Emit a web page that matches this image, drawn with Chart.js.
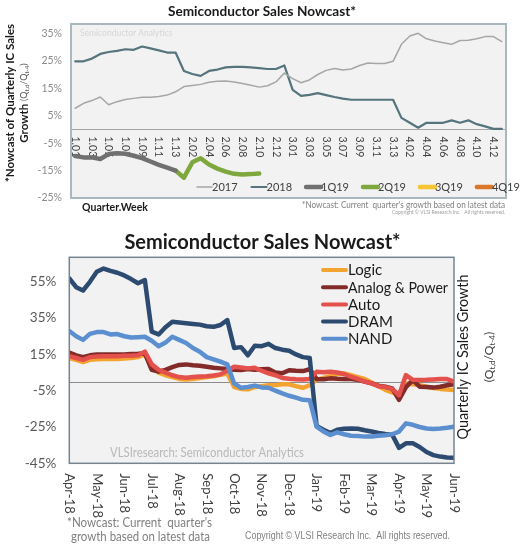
<!DOCTYPE html>
<html>
<head>
<meta charset="utf-8">
<script src="https://cdn.jsdelivr.net/npm/chart.js@4.4.0/dist/chart.umd.min.js"></script>
<style>
  html, body { margin: 0; padding: 0; background: #fff; }
  #wrap { position: relative; width: 526px; height: 547px; overflow: hidden; }
  #topChart { position: absolute; left: 0; top: 0; }
  #bottomChart { position: absolute; left: 0; top: 220px; }
</style>
</head>
<body>
<div id="wrap">
  <canvas id="topChart" width="526" height="220"></canvas>
  <canvas id="bottomChart" width="526" height="327"></canvas>
</div>
<script>
// ---- top chart data (quarter.week) ----
const topWeeks = ['1.01','1.02','1.03','1.04','1.05','1.06','1.07','1.08','1.09','1.10','1.11','1.12','1.13',
  '2.01','2.02','2.03','2.04','2.05','2.06','2.07','2.08','2.09','2.10','2.11','2.12','2.13',
  '3.01','3.02','3.03','3.04','3.05','3.06','3.07','3.08','3.09','3.10','3.11','3.12','3.13',
  '4.01','4.02','4.03','4.04','4.05','4.06','4.07','4.08','4.09','4.10','4.11','4.12','4.13'];
const s2017 = [7.7, 9.5, 10.5, 11.8, 9.0, 10.1, 10.9, 11.3, 11.7, 11.7, 12.0, 12.5, 13.7,
  15.6, 16.0, 16.4, 17.2, 17.5, 17.6, 17.3, 16.7, 16.1, 15.4, 15.9, 17.3, 20.5,
  18.5, 17.0, 18.0, 20.0, 21.5, 22.2, 21.6, 22.0, 23.3, 24.2, 24.0, 24.0, 24.8,
  31.0, 34.0, 35.0, 33.0, 32.2, 31.6, 31.0, 32.4, 32.5, 33.0, 33.8, 33.8, 32.0];
const s2018 = [24.8, 24.8, 25.8, 27.5, 28.2, 28.6, 29.2, 29.0, 30.2, 29.5, 28.8, 28.0, 28.0,
  21.3, 20.2, 19.5, 21.3, 21.8, 22.6, 22.8, 22.8, 22.6, 22.3, 22.0, 22.0, 23.3,
  14.4, 12.2, 12.6, 13.2, 12.5, 11.8, 11.2, 10.8, 10.8, 10.8, 10.8, 10.8, 10.8,
  4.2, 2.4, 0.6, 2.4, 2.4, 2.4, 3.3, 2.4, 3.3, 1.9, 1.1, 0.2, 0.2];
const s1Q19 = [-9.7, -10.2, -10.2, -10.8, -9.0, -8.7, -8.9, -9.6, -10.5, -11.7, -12.9, -13.9, -15.0];
const s2Q19 = [null, null, null, null, null, null, null, null, null, null, null, null,
  -15.0, -17.6, -12.0, -10.5, -12.8, -14.3, -15.4, -16.2, -16.4, -16.3, -16.1];
const s3Q19 = [];
const s4Q19 = [];
const topYTicks = [-25, -20, -15, -10, -5, 0, 5, 10, 15, 20, 25, 30, 35];

// ---- bottom chart data (weekly, Apr-18 .. Jun-19) ----
const months = ['Apr-18','May-18','Jun-18','Jul-18','Aug-18','Sep-18','Oct-18','Nov-18','Dec-18',
  'Jan-19','Feb-19','Mar-19','Apr-19','May-19','Jun-19'];
const logic = [13.0, 12.0, 10.8, 12.0, 12.3, 12.5, 12.5, 12.5, 12.8, 13.0, 13.5, 15.0,
  8.5, 5.0, 3.5, 2.5, 1.5, 1.2, 1.5, 2.0, 2.5, 3.0, 3.8, 4.5,
  -3.0, -4.0, -4.2, -3.0, -2.5, -2.0, -1.8, -1.5, -1.5, -2.5, -3.4, -2.0,
  1.0, 2.0, 3.0, 4.2, 4.5, 3.5, 2.5, 1.5, -0.5, -2.5, -4.5, -6.0,
  -6.5, -1.0, -1.5, -2.0, -2.8, -3.5, -4.0, -4.3, -4.6];
const analogPower = [16.0, 14.5, 13.5, 14.5, 15.0, 15.0, 15.0, 15.0, 15.0, 15.2, 15.3, 15.5,
  6.5, 5.5, 6.5, 8.0, 9.2, 9.5, 9.0, 8.8, 8.2, 7.6, 7.3, 7.0,
  6.6, 6.4, 7.0, 6.5, 6.8, 6.9, 5.0, 4.6, 6.3, 6.0, 5.8, 6.8,
  1.5, 1.3, 1.8, 1.6, 1.5, 1.4, 1.0, 0.0, -1.0, -2.2, -2.8, -3.8,
  -10.0, -3.0, 0.8, -2.8, -3.0, -3.3, -2.8, -2.0, -1.5];
const auto = [14.0, 13.0, 12.0, 13.5, 13.8, 14.0, 14.0, 14.0, 14.2, 14.3, 14.5, 16.5,
  9.5, 6.5, 5.0, 3.5, 2.5, 2.2, 2.5, 2.8, 3.0, 3.4, 4.0, 6.0,
  8.2, 7.8, 7.3, 7.6, 6.0, 4.6, 3.5, 2.0, 1.6, 1.3, 1.2, 1.5,
  5.4, 5.2, 5.4, 5.0, 4.2, 2.7, 1.5, 0.0, -1.0, -2.5, -3.0, -4.0,
  -7.5, 3.6, 1.0, 0.9, 1.0, 1.2, 1.4, 1.4, 0.0];
const dram = [56.9, 52.0, 50.2, 55.0, 60.5, 62.3, 61.0, 60.0, 58.5, 56.5, 54.2, 55.9,
  27.5, 26.0, 30.0, 33.0, 32.6, 32.2, 31.8, 31.4, 30.5, 30.2, 31.2, 33.9,
  18.5, 19.0, 14.5, 19.8, 19.5, 20.8, 18.5, 17.6, 17.0, 15.0, 13.5, 13.0,
  -24.5, -26.5, -28.3, -26.5, -26.0, -25.8, -26.0, -26.8, -27.5, -28.3, -28.8, -29.2,
  -36.5, -34.0, -34.0, -36.0, -38.8, -40.5, -41.3, -41.8, -42.0];
const nand = [27.9, 25.0, 23.0, 26.3, 27.3, 27.3, 26.0, 26.2, 25.0, 24.3, 24.5, 24.7,
  22.5, 19.5, 21.5, 24.7, 23.0, 21.3, 18.5, 16.5, 13.5, 12.3, 11.0, 9.5,
  -1.0, -3.4, -3.0, -2.2, -3.2, -3.4, -5.0, -6.5, -7.8, -8.8, -10.0, -10.2,
  -24.8, -27.5, -29.4, -28.0, -29.0, -29.8, -30.0, -30.3, -30.2, -29.8, -29.5, -29.0,
  -27.5, -23.0, -23.8, -25.0, -25.8, -26.1, -25.8, -25.4, -24.8];
const bottomYTicks = [-45, -25, -5, 15, 35, 55];
const weeksPerMonth = 4;

const FONT = 'Lato, "Open Sans", sans-serif';

// draw a sequence of text runs centred on (x, y), rotated by angle
function drawRuns(ctx, runs, x, y, angle, maxW) {
  ctx.save();
  ctx.translate(x, y);
  ctx.rotate(angle);
  ctx.textBaseline = 'middle';
  ctx.textAlign = 'left';
  let total = 0;
  runs.forEach(r => { ctx.font = r.font; total += ctx.measureText(r.t).width; });
  if (maxW && total > maxW) { ctx.scale(maxW / total, 1); }
  let cx = -total / 2;
  runs.forEach(r => {
    ctx.font = r.font;
    ctx.fillStyle = r.color;
    ctx.fillText(r.t, cx, r.dy || 0);
    cx += ctx.measureText(r.t).width;
  });
  ctx.restore();
}

function qRuns(size, color, prefix) {
  const n = size + 'px ' + FONT, s = Math.round(size * 0.68) + 'px ' + FONT;
  const runs = [];
  if (prefix) runs.push(prefix);
  runs.push({t: '(Q', font: n, color}, {t: 't,d', font: s, color, dy: size * 0.3},
    {t: '/Q', font: n, color}, {t: 't-4', font: s, color, dy: size * 0.3}, {t: ')', font: n, color});
  return runs;
}

// ---------------- top chart ----------------
const topDecor = {
  id: 'topDecor',
  beforeDatasetsDraw(chart) {
    const {ctx, chartArea: a, scales: {x, y}} = chart;
    ctx.save();
    ctx.fillStyle = '#f2f2f2';
    ctx.fillRect(a.left, a.top, a.right - a.left, a.bottom - a.top);
    ctx.font = '8.5px ' + FONT;
    ctx.fillStyle = '#d6d6d6';
    ctx.textBaseline = 'middle';
    ctx.fillText('Semiconductor Analytics', a.left + 9, a.top + 9);
    const y0 = Math.round(y.getPixelForValue(0)) + 0.5;
    ctx.strokeStyle = '#a6a6a6';
    ctx.lineWidth = 1;
    ctx.beginPath(); ctx.moveTo(a.left, y0); ctx.lineTo(a.right, y0); ctx.stroke();
    ctx.font = '10.5px ' + FONT;
    ctx.fillStyle = '#404040';
    topWeeks.forEach((lab, i) => {
      if (i % 2) return;
      ctx.save();
      ctx.translate(x.getPixelForValue(i), y0 + 7);
      ctx.rotate(Math.PI / 2);
      ctx.textAlign = 'left';
      ctx.fillText(lab, 0, 0);
      ctx.restore();
    });
    ctx.restore();
  },
  afterDatasetsDraw(chart) {
    const {ctx, chartArea: a} = chart;
    ctx.save();
    ctx.strokeStyle = '#a9b7bf';
    ctx.lineWidth = 2;
    ctx.strokeRect(a.left, a.top, a.right - a.left, a.bottom - a.top);
    // legend
    ctx.font = '11px ' + FONT;
    ctx.textBaseline = 'middle';
    let lx = 197;
    const ly = 187;
    chart.data.datasets.forEach(ds => {
      const len = 15;
      ctx.strokeStyle = ds.borderColor;
      ctx.lineWidth = ds.borderWidth;
      ctx.lineCap = 'round';
      ctx.beginPath(); ctx.moveTo(lx, ly); ctx.lineTo(lx + len, ly); ctx.stroke();
      ctx.fillStyle = '#404040';
      ctx.fillText(ds.label, lx + len, ly);
      lx += len + ctx.measureText(ds.label).width + 14;
    });
    ctx.restore();
  },
  afterDraw(chart) {
    const {ctx} = chart;
    ctx.save();
    ctx.textAlign = 'center';
    ctx.textBaseline = 'middle';
    ctx.fillStyle = '#1a1a1a';
    ctx.font = 'bold 14px ' + FONT;
    ctx.fillText('Semiconductor Sales Nowcast*', 262, 11, 188);
    drawRuns(ctx, [{t: '*Nowcast of Quarterly IC Sales', font: 'bold 11.5px ' + FONT, color: '#1a1a1a'}], 10, 103, -Math.PI / 2);
    drawRuns(ctx, qRuns(9, '#595959', {t: 'Growth ', font: 'bold 11.5px ' + FONT, color: '#1a1a1a'}), 24, 103, -Math.PI / 2);
    ctx.textAlign = 'left';
    ctx.font = 'bold 12px ' + FONT;
    ctx.fillText('Quarter.Week', 82, 207, 66);
    ctx.textAlign = 'right';
    ctx.font = '8.5px ' + FONT;
    ctx.fillStyle = '#7f7f7f';
    ctx.fillText("*Nowcast: Current  quarter's growth based on latest data", 505, 205, 203);
    ctx.font = '5px ' + FONT;
    ctx.fillStyle = '#a0a0a0';
    ctx.fillText('Copyright \u00A9 VLSI Research Inc.   All rights reserved.', 505, 212, 117);
    ctx.restore();
  }
};

new Chart(document.getElementById('topChart').getContext('2d'), {
  type: 'line',
  data: {
    labels: topWeeks,
    datasets: [
      {label: '2017', data: s2017, borderColor: '#a6a6a6', borderWidth: 1.5},
      {label: '2018', data: s2018, borderColor: '#55747e', borderWidth: 2.2},
      {label: '1Q19', data: s1Q19, borderColor: '#707070', borderWidth: 4.5},
      {label: '2Q19', data: s2Q19, borderColor: '#7ea83e', borderWidth: 4.5},
      {label: '3Q19', data: s3Q19, borderColor: '#f6c532', borderWidth: 4.5},
      {label: '4Q19', data: s4Q19, borderColor: '#d9772b', borderWidth: 4.5}
    ].map(d => Object.assign(d, {pointRadius: 0, fill: false, tension: 0, borderJoinStyle: 'round', borderCapStyle: 'round'}))
  },
  options: {
    responsive: false,
    animation: false,
    layout: {padding: {left: 26, right: 20, top: 24, bottom: 22}},
    plugins: {legend: {display: false}, tooltip: {enabled: false}},
    scales: {
      x: {
        type: 'category', offset: true,
        ticks: {display: false}, grid: {display: false, drawTicks: false}, border: {display: false},
        afterFit: s => { s.height = 0; }
      },
      y: {
        min: -25, max: 38.4,
        afterBuildTicks: s => { s.ticks = topYTicks.map(v => ({value: v})); },
        ticks: {callback: v => v + '%', color: '#8c8c8c', font: {family: FONT, size: 10.5}, padding: 9},
        grid: {display: false, drawTicks: false}, border: {display: false},
        afterFit: s => { s.width = 45; }
      }
    }
  },
  plugins: [topDecor]
});

// ---------------- bottom chart ----------------
const bottomDecor = {
  id: 'bottomDecor',
  beforeDatasetsDraw(chart) {
    const {ctx, chartArea: a, scales: {y}} = chart;
    ctx.save();
    ctx.fillStyle = '#f2f2f2';
    ctx.fillRect(a.left, a.top, a.right - a.left, a.bottom - a.top);
    ctx.font = '14px ' + FONT;
    ctx.fillStyle = '#b8b8b8';
    ctx.textBaseline = 'middle';
    ctx.fillText('VLSIresearch: Semiconductor Analytics', 110, 232, 194);
    const y0 = Math.round(y.getPixelForValue(0)) + 0.5;
    ctx.strokeStyle = '#8c8c8c';
    ctx.lineWidth = 1;
    ctx.beginPath(); ctx.moveTo(a.left, y0); ctx.lineTo(a.right, y0); ctx.stroke();
    ctx.restore();
  },
  afterDatasetsDraw(chart) {
    const {ctx, chartArea: a, scales: {x}} = chart;
    ctx.save();
    ctx.strokeStyle = '#76848f';
    ctx.lineWidth = 1.5;
    ctx.strokeRect(a.left, a.top, a.right - a.left, a.bottom - a.top);
    // month labels, rotated clockwise
    ctx.font = '13px ' + FONT;
    ctx.fillStyle = '#404040';
    ctx.textBaseline = 'middle';
    months.forEach((m, i) => {
      ctx.save();
      ctx.translate(x.getPixelForValue(i), a.bottom + 10);
      ctx.rotate(Math.PI / 2);
      ctx.textAlign = 'left';
      ctx.fillText(m, 0, 0);
      ctx.restore();
    });
    // legend inside plot
    ctx.font = '15px ' + FONT;
    chart.data.datasets.forEach((ds, i) => {
      const ly = 50 + i * 17.2;
      ctx.strokeStyle = ds.borderColor;
      ctx.lineWidth = 4;
      ctx.lineCap = 'round';
      ctx.beginPath(); ctx.moveTo(323, ly); ctx.lineTo(346, ly); ctx.stroke();
      ctx.fillStyle = '#1a1a1a';
      ctx.textAlign = 'left';
      ctx.fillText(ds.label, 348, ly + 0.5, 100);
    });
    ctx.restore();
  },
  afterDraw(chart) {
    const {ctx} = chart;
    ctx.save();
    ctx.textAlign = 'center';
    ctx.textBaseline = 'middle';
    ctx.fillStyle = '#1a1a1a';
    ctx.font = 'bold 20px ' + FONT;
    ctx.fillText('Semiconductor Sales Nowcast*', 262.5, 23, 286);
    drawRuns(ctx, [{t: 'Quarterly IC Sales Growth', font: '15px ' + FONT, color: '#1a1a1a'}], 463, 137, -Math.PI / 2, 165);
    drawRuns(ctx, qRuns(12, '#404040'), 489, 137, -Math.PI / 2);
    ctx.textAlign = 'left';
    ctx.font = '14px ' + FONT;
    ctx.fillStyle = '#7f7f7f';
    ctx.fillText("*Nowcast: Current  quarter's", 67, 302.7, 145);
    ctx.fillText('growth based on latest data', 71, 316.7, 139);
    ctx.font = '10.5px "Liberation Sans", Arial, sans-serif';
    ctx.fillStyle = '#808080';
    ctx.fillText('Copyright \u00A9 VLSI Research Inc.  All rights reserved.', 245, 316, 205);
    ctx.restore();
  }
};

const toPoints = vals => vals.map((v, i) => ({x: i / weeksPerMonth, y: v}));

new Chart(document.getElementById('bottomChart').getContext('2d'), {
  type: 'line',
  data: {
    datasets: [
      {label: 'Logic', data: toPoints(logic), borderColor: '#f3a32f'},
      {label: 'Analog & Power', data: toPoints(analogPower), borderColor: '#822b29'},
      {label: 'Auto', data: toPoints(auto), borderColor: '#e4504b'},
      {label: 'DRAM', data: toPoints(dram), borderColor: '#2d4b71'},
      {label: 'NAND', data: toPoints(nand), borderColor: '#5b8fd0'}
    ].map((d, i) => Object.assign(d, {borderWidth: 4.5, pointRadius: 0, fill: false, tension: 0,
      borderJoinStyle: 'round', borderCapStyle: 'round', order: 4 - i}))
  },
  options: {
    responsive: false,
    animation: false,
    layout: {padding: {left: 9.3, right: 72, top: 37.3, bottom: 83.7}},
    plugins: {legend: {display: false}, tooltip: {enabled: false}},
    scales: {
      x: {
        type: 'linear', min: 0, max: months.length - 1,
        ticks: {display: false}, grid: {display: false, drawTicks: false}, border: {display: false},
        afterFit: s => { s.height = 0; }
      },
      y: {
        min: -45, max: 68.5,
        afterBuildTicks: s => { s.ticks = bottomYTicks.map(v => ({value: v})); },
        ticks: {callback: v => v + '%', color: '#595959', font: {family: FONT, size: 13.5}, padding: 13},
        grid: {display: false, drawTicks: false}, border: {display: false},
        afterFit: s => { s.width = 60; }
      }
    }
  },
  plugins: [bottomDecor]
});
</script>
</body>
</html>
